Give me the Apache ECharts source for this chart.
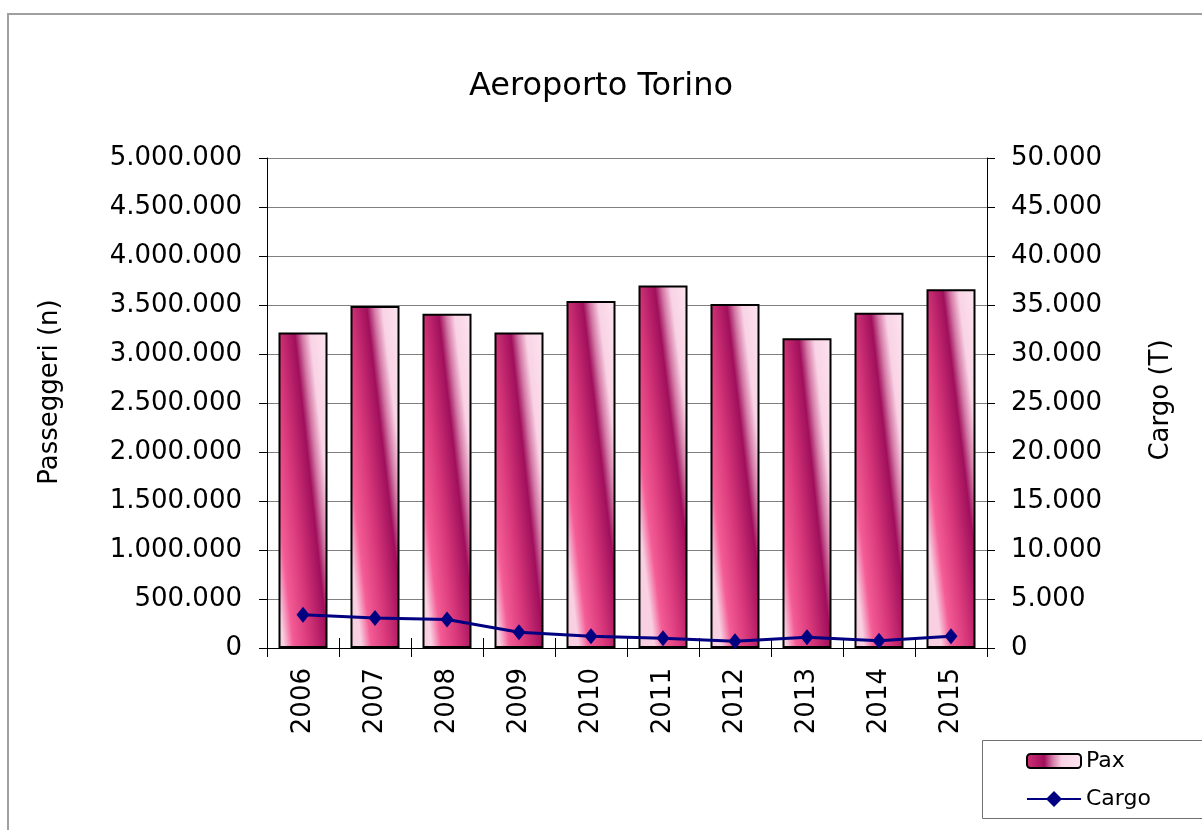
<!DOCTYPE html>
<html>
<head>
<meta charset="utf-8">
<title>Aeroporto Torino</title>
<script src="https://cdn.jsdelivr.net/npm/echarts@6/dist/echarts.min.js"></script>
<style>
  html, body { margin: 0; padding: 0; background: #fff; }
  #chart { width: 1202px; height: 830px; }
</style>
</head>
<body>
<div id="chart"></div>
<script>
// dati
const years = ['2006', '2007', '2008', '2009', '2010', '2011', '2012', '2013', '2014', '2015']
const pax = [3220000, 3490000, 3410000, 3220000, 3540000, 3700000, 3510000, 3160000, 3420000, 3660000]
const cargo = [3400, 3050, 2900, 1600, 1200, 1000, 700, 1100, 750, 1200]

const FONT = 'DejaVu Sans'

// separatore migliaia con il punto
function fmt(v) {
  return String(v).replace(/\B(?=(\d{3})+(?!\d))/g, '.')
}

// riempimento delle barre: strisce oblique rosa / magenta
const barFill = {
  type: 'linear',
  x: -0.57,
  y: 0.01,
  x2: 1.06,
  y2: -0.017,
  colorStops: [
    { offset: 0, color: '#f8d0e2' },
    { offset: 0.12, color: '#f45d96' },
    { offset: 0.32, color: '#d8387a' },
    { offset: 0.55, color: '#a00f5c' },
    { offset: 0.64, color: '#d47aa6' },
    { offset: 0.74, color: '#f9d3e5' },
    { offset: 1, color: '#fde8f2' }
  ],
  global: false
}

const chart = echarts.init(document.getElementById('chart'))

const legendText = { fontFamily: FONT, fontSize: 22, color: '#000' }

const option = {
  backgroundColor: '#fff',
  animation: false,
  title: {
    text: 'Aeroporto Torino',
    left: 'center',
    top: 66,
    textStyle: { fontFamily: FONT, fontSize: 32, fontWeight: 'normal', color: '#000' }
  },
  grid: {
    left: 267,
    right: 215,
    top: 158,
    bottom: 182,
    containLabel: false,
    outerBoundsMode: 'none'
  },
  legend: [
    {
      left: 1026,
      top: 750,
      padding: 0,
      itemWidth: 54,
      itemHeight: 14,
      selectedMode: false,
      textStyle: legendText,
      data: ['Pax']
    },
    {
      left: 1026,
      top: 788,
      padding: 0,
      itemWidth: 54,
      itemHeight: 20,
      selectedMode: false,
      textStyle: legendText,
      data: ['Cargo']
    }
  ],
  xAxis: [
    {
      type: 'category',
      data: years,
      boundaryGap: true,
      axisLine: { show: true, lineStyle: { color: '#000', width: 1 } },
      axisTick: { show: true, length: 9, lineStyle: { color: '#000' } },
      axisLabel: {
        rotate: 90,
        margin: 20,
        interval: 0,
        fontFamily: FONT,
        fontSize: 26,
        color: '#000'
      },
      splitLine: { show: false }
    },
    {
      // tacche che attraversano l'asse (parte interna)
      type: 'category',
      data: years,
      position: 'bottom',
      offset: 0,
      boundaryGap: true,
      axisLine: { show: false },
      axisTick: { show: true, inside: true, length: 10, lineStyle: { color: '#000' } },
      axisLabel: { show: false },
      splitLine: { show: false }
    }
  ],
  yAxis: [
    {
      type: 'value',
      min: 0,
      max: 5000000,
      interval: 500000,
      axisLine: { show: true, lineStyle: { color: '#000', width: 1 } },
      axisTick: { show: true, length: 8, lineStyle: { color: '#000' } },
      axisLabel: {
        margin: 25,
        fontFamily: FONT,
        fontSize: 26,
        color: '#000',
        formatter: fmt
      },
      splitLine: { show: true, lineStyle: { color: '#808080', width: 1 } }
    },
    {
      type: 'value',
      min: 0,
      max: 50000,
      interval: 5000,
      position: 'right',
      axisLine: { show: true, lineStyle: { color: '#000', width: 1 } },
      axisTick: { show: true, length: 8, lineStyle: { color: '#000' } },
      axisLabel: {
        margin: 24,
        fontFamily: FONT,
        fontSize: 26,
        color: '#000',
        formatter: fmt
      },
      splitLine: { show: false }
    }
  ],
  series: [
    {
      name: 'Pax',
      type: 'bar',
      yAxisIndex: 0,
      barWidth: 49,
      itemStyle: {
        color: barFill,
        borderColor: '#000',
        borderWidth: 2
      },
      data: pax
    },
    {
      name: 'Cargo',
      type: 'line',
      yAxisIndex: 1,
      z: 5,
      symbol: 'diamond',
      symbolSize: [13, 16],
      lineStyle: { color: '#000080', width: 3 },
      itemStyle: { color: '#000080' },
      data: cargo
    }
  ],
  graphic: [
    // cornice esterna
    {
      type: 'rect',
      silent: true,
      shape: { x: 8, y: 14, width: 1300, height: 900 },
      style: { fill: 'none', stroke: '#a0a0a0', lineWidth: 2 }
    },
    // riquadro legenda
    {
      type: 'rect',
      silent: true,
      shape: { x: 982.5, y: 740.5, width: 240, height: 78 },
      style: { fill: 'none', stroke: '#707070', lineWidth: 1 }
    },
    // titoli degli assi
    {
      type: 'text',
      x: 50,
      y: 392,
      rotation: Math.PI / 2,
      style: {
        text: 'Passeggeri (n)',
        font: '26px "DejaVu Sans"',
        fill: '#000',
        align: 'center',
        verticalAlign: 'middle'
      }
    },
    {
      type: 'text',
      x: 1161,
      y: 400,
      rotation: Math.PI / 2,
      style: {
        text: 'Cargo (T)',
        font: '26px "DejaVu Sans"',
        fill: '#000',
        align: 'center',
        verticalAlign: 'middle'
      }
    }
  ]
}

chart.setOption(option)
</script>
</body>
</html>
